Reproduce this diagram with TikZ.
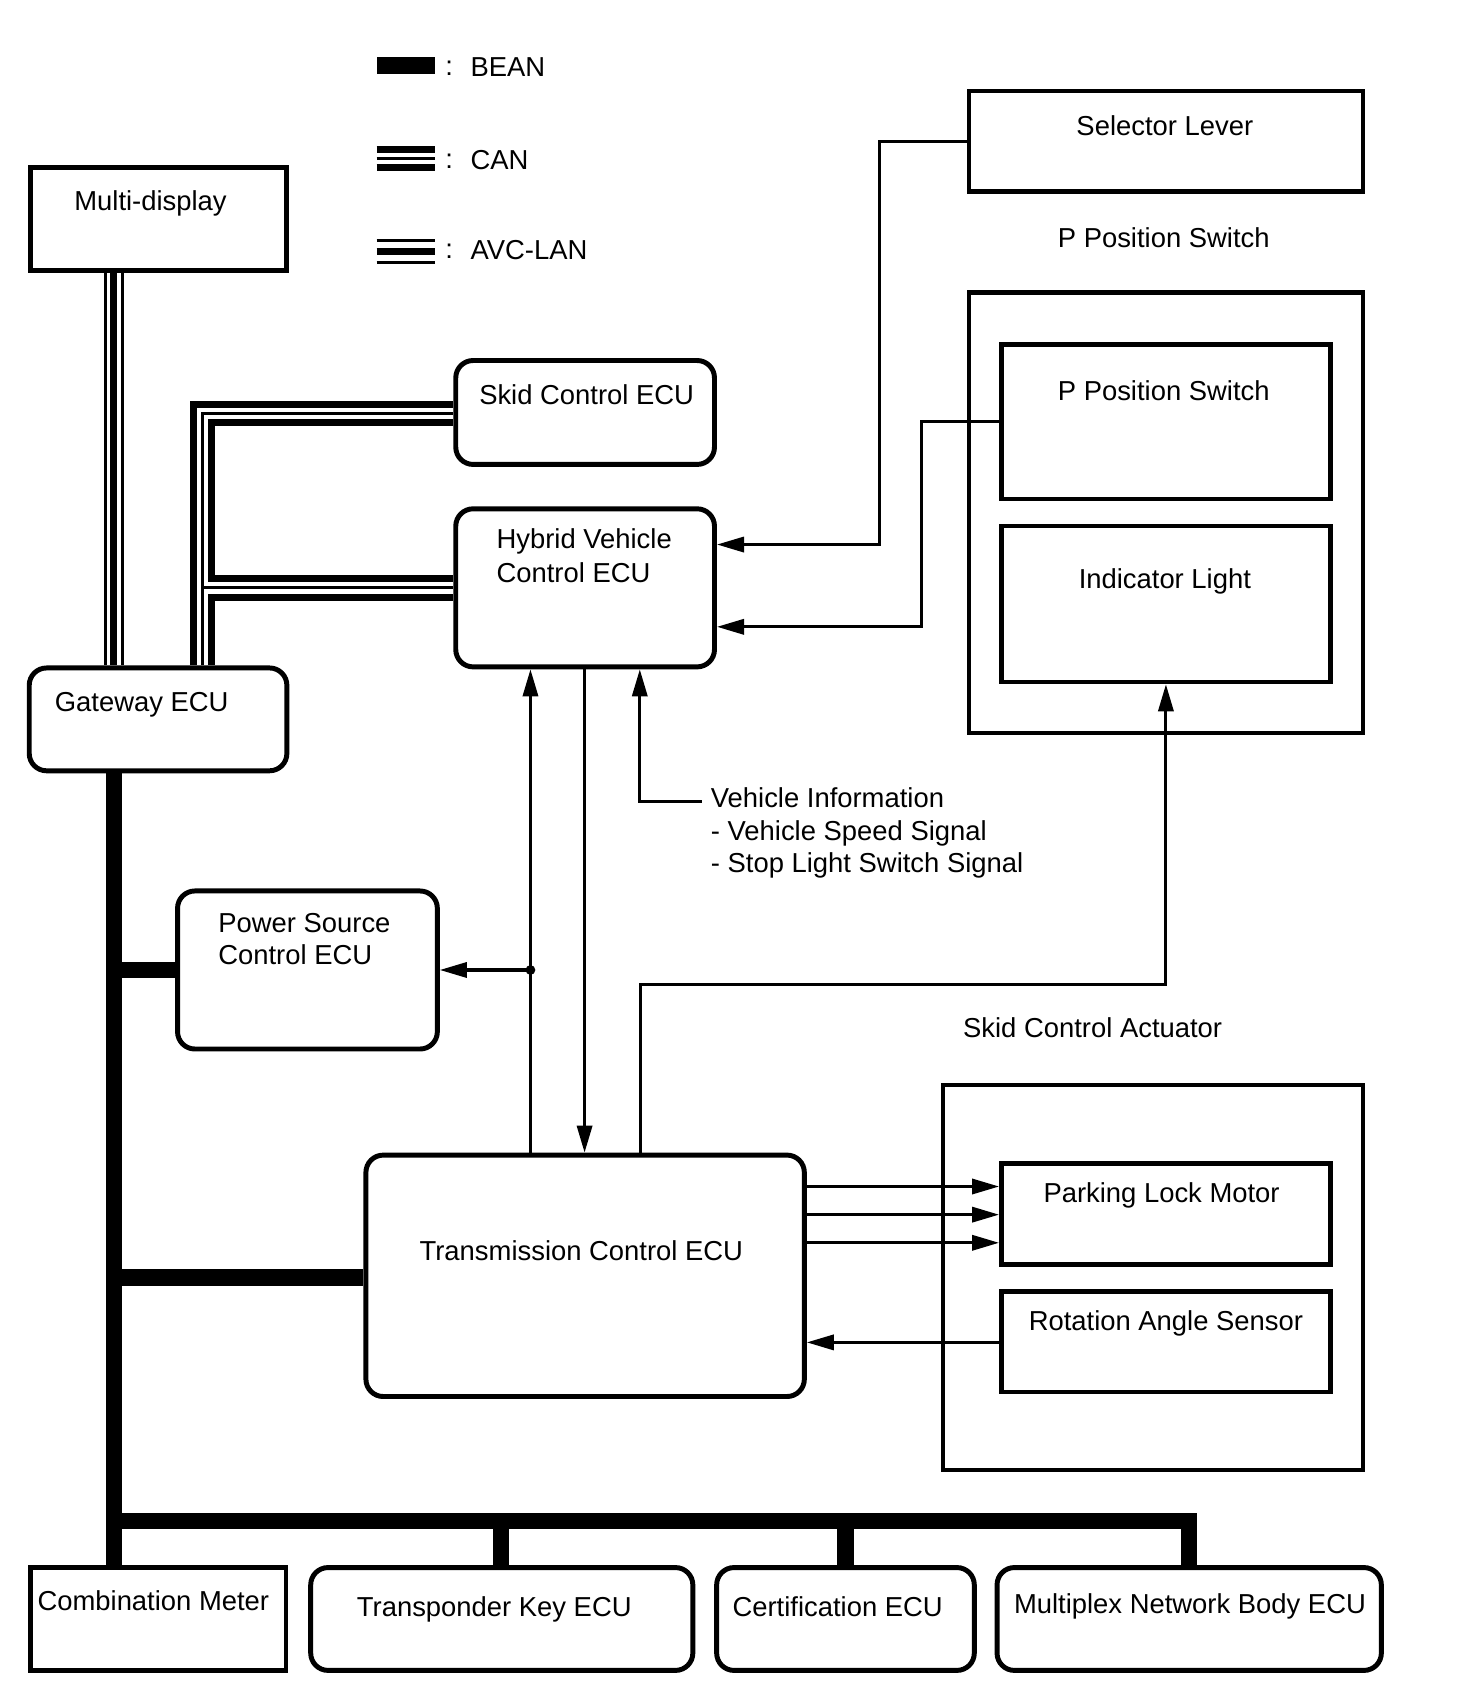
\documentclass[tikz,border=0pt]{standalone}
\usepackage{fontspec}
\setmainfont{Liberation Sans}
\usetikzlibrary{arrows.meta,fit}
\begin{document}
\begin{tikzpicture}[x=0.01cm,y=-0.01cm,
  every node/.style={font=\fontsize{7.2}{8.6}\selectfont},
  sq/.style={draw, line width=1.2pt, inner sep=0pt},
  rbox/.style={draw, line width=1.3pt, inner sep=0pt, rounded corners=0.16cm},
  txt/.style={inner sep=0pt, anchor=base west},
  ctxt/.style={inner sep=0pt, anchor=base},
  conn/.style={line width=0.8pt},
  arr/.style={conn, -{Triangle[length=0.25cm,width=0.14cm]}},
  bean/.style={line width=0.15cm, line join=miter},
  thickl/.style={line width=0.065cm, line join=miter},
  thinl/.style={line width=0.028cm, line join=miter},
]
\useasboundingbox (0,0) rectangle (1345,1568.5);

% ---------- legend ----------
\fill (348,53) rectangle (402,68);
\draw[thickl] (348,137.7) -- (402,137.7);
\draw[thinl]  (348,146.2) -- (402,146.2);
\draw[thickl] (348,154.7) -- (402,154.7);
\draw[thinl]  (348,221.9) -- (402,221.9);
\draw[thickl] (348,232.3) -- (402,232.3);
\draw[thinl]  (348,242.4) -- (402,242.4);
\node[ctxt] (col1) at (415,70) {:};
\node[ctxt] (col2) at (415,156) {:};
\node[ctxt] (col3) at (415,239) {:};
\node[txt] (lbean) at (434,71) {BEAN};
\node[txt] (lcan) at (434,157) {CAN};
\node[txt] (lavc) at (434,240) {AVC-LAN};

% ---------- boxes ----------
\node[sq, line width=1.3pt, fit={(28,155) (265,250)}] (md) {};
\node[rbox, fit={(27,617) (265,712)}] (gw) {};
\node[rbox, fit={(421,333) (660,429)}] (skid) {};
\node[rbox, fit={(421,470) (660,616)}] (hyb) {};
\node[sq, fit={(895,84) (1259,177)}] (sel) {};
\node[sq, fit={(895,270) (1259,677)}] (pout) {};
\node[sq, fit={(925,318) (1229,461)}] (psw) {};
\node[sq, fit={(925,486) (1229,630)}] (ind) {};
\node[rbox, fit={(164,823) (404,969)}] (pwr) {};
\node[sq, line width=1pt, fit={(871,1002) (1259,1358)}] (act) {};
\node[sq, fit={(925,1075) (1229,1168)}] (plm) {};
\node[sq, fit={(925,1193) (1229,1286)}] (ras) {};
\node[rbox, fit={(338,1067) (743,1290)}] (tcm) {};
\node[sq, fit={(28,1448) (264,1543)}] (cm) {};
\node[rbox, fit={(287,1448) (640,1543)}] (tkey) {};
\node[rbox, fit={(662,1448) (900,1543)}] (cert) {};
\node[rbox, fit={(921,1448) (1276,1543)}] (mux) {};

% ---------- texts ----------
\node[txt] (tmd) at (68,194) {Multi-display};
\node[txt] (tgw) at (50,657) {Gateway ECU};
\node[txt] (tskid) at (442,374) {Skid Control ECU};
\node[txt] (thyb1) at (458,507) {Hybrid Vehicle};
\node[txt] (thyb2) at (458,538) {Control ECU};
\node[ctxt] (tsel) at (1076,125) {Selector Lever};
\node[ctxt] (tpout) at (1075,229) {P Position Switch};
\node[ctxt] (tpsw) at (1075,370) {P Position Switch};
\node[ctxt] (tind) at (1076,544) {Indicator Light};
\node[txt] (tvi1) at (656,746) {Vehicle Information};
\node[txt] (tvi2) at (656,776) {- Vehicle Speed Signal};
\node[txt] (tvi3) at (656,806) {- Stop Light Switch Signal};
\node[txt] (tpwr1) at (201,861) {Power Source};
\node[txt] (tpwr2) at (201,891) {Control ECU};
\node[txt] (tact) at (889,958) {Skid Control Actuator};
\node[ctxt] (ttcm) at (537,1164) {Transmission Control ECU};
\node[ctxt] (tplm) at (1073,1111) {Parking Lock Motor};
\node[ctxt] (tras) at (1077,1229) {Rotation Angle Sensor};
\node[txt] (tcm1) at (34,1488) {Combination Meter};
\node[txt] (ttkey) at (329,1493) {Transponder Key ECU};
\node[txt] (tcert) at (676,1493) {Certification ECU};
\node[txt] (tmux) at (936,1490) {Multiplex Network Body ECU};

% ---------- AVC-LAN ----------
\draw[thinl]  (md.south -| 97.3,0) -- (gw.north -| 97.3,0);
\draw[thickl] (md.south -| 104.8,0) -- (gw.north -| 104.8,0);
\draw[thinl]  (md.south -| 113.1,0) -- (gw.north -| 113.1,0);

% ---------- CAN ----------
\draw[thickl] (gw.north -| 178.5,0) -- (178.5,373.3) -- (skid.west |- 0,373.3);
\draw[thinl]  (gw.north -| 186.8,0) -- (186.8,381.7) -- (skid.west |- 0,381.7);
\draw[thinl]  (186.8,542.8) -- (hyb.west |- 0,542.8);
\draw[thickl] (skid.west |- 0,390) -- (195.3,390) -- (195.3,534.6) -- (hyb.west |- 0,534.6);
\draw[thickl] (hyb.west |- 0,551.7) -- (195.3,551.7) -- (gw.north -| 195.3,0);

% ---------- BEAN ----------
\draw[bean] (gw.south -| 105,0) -- (cm.north -| 105,0);
\draw[bean] (105,896) -- (pwr.west |- 0,896);
\draw[bean] (105,1180) -- (tcm.west |- 0,1180);
\draw[bean] (105,1405) -| (mux.north -| 1098,0);
\draw[bean] (463,1405) -- (tkey.north -| 463,0);
\draw[bean] (781,1405) -- (cert.north -| 781,0);

% ---------- signal connectors ----------
\draw[arr] (sel.west) -| (812,503) -- (hyb.east |- 0,503);
\draw[arr] (psw.west) -| (851,579) -- (hyb.east |- 0,579);
\coordinate (j) at (490,896);
\draw[arr] (tcm.north -| j) -- (hyb.south -| j);
\fill (j) circle[radius=0.045cm];
\draw[arr] (j) -- (pwr.east |- j);
\draw[arr] (hyb.south -| 540,0) -- (tcm.north -| 540,0);
\coordinate (vi) at (648,740);
\draw[arr] (vi) -| (hyb.south -| 591,0);
\draw[arr] (tcm.north -| 592,0) -- (592,909) -| (ind.south);
\draw[arr] (tcm.east |- 0,1096) -- (plm.west |- 0,1096);
\draw[arr] (tcm.east |- 0,1122) -- (plm.west |- 0,1122);
\draw[arr] (tcm.east |- 0,1148) -- (plm.west |- 0,1148);
\draw[arr] (ras.west |- 0,1240) -- (tcm.east |- 0,1240);
\end{tikzpicture}
\end{document}
